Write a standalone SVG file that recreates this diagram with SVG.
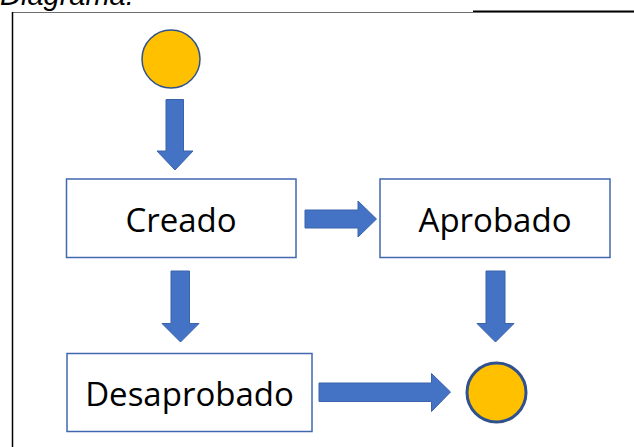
<svg xmlns="http://www.w3.org/2000/svg" width="634" height="447" viewBox="0 0 634 447">
  <style>
    .box { fill: #ffffff; stroke: #4068AE; stroke-width: 1.5; }
    .lbl { font-family: "Open Sans", "Noto Sans", sans-serif; font-size: 33px; fill: #000000; text-anchor: middle; }
    .arrow { fill: #4472C4; stroke: #3A63AA; stroke-width: 1; }
    .state { fill: #FFC000; stroke: #2F528F; }
  </style>
  <rect x="0" y="0" width="634" height="447" fill="#ffffff"/>
  <text x="0" y="5" font-family="Liberation Sans, Arial, sans-serif" font-size="29" font-style="italic" fill="#000000">Diagrama:</text>
  <g id="frame">
    <line x1="12" y1="12.5" x2="634" y2="12.5" stroke="#6f6f6f" stroke-width="1"/>
    <line x1="473" y1="11.3" x2="634" y2="11.3" stroke="#000000" stroke-width="1.6"/>
    <line x1="12.5" y1="12" x2="12.5" y2="447" stroke="#000000" stroke-width="1.5"/>
  </g>
  <g id="connectors">
    <polygon class="arrow" points="166,99.5 183.5,99.5 183.5,151 193,151 175,170 157,151 166,151"/>
    <polygon class="arrow" points="305,210 358,210 358,201 376.5,219 358,237 358,228 305,228"/>
    <polygon class="arrow" points="171,271 189.5,271 189.5,323.5 199,323.5 180.5,342 162,323.5 171,323.5"/>
    <polygon class="arrow" points="486,271 505,271 505,323.5 514,323.5 495.5,342 477,323.5 486,323.5"/>
    <polygon class="arrow" points="319,383 431.5,383 431.5,373.5 450.5,392 431.5,411.5 431.5,401.5 319,401.5"/>
  </g>
  <g id="start">
    <circle class="state" cx="171" cy="59" r="29" stroke-width="1.5"/>
  </g>
  <g id="creado">
    <rect class="box" x="66.5" y="179" width="229.5" height="78.5"/>
    <text class="lbl" x="181" y="231.5">Creado</text>
  </g>
  <g id="aprobado">
    <rect class="box" x="380" y="179" width="230" height="78.5"/>
    <text class="lbl" x="495" y="231.5">Aprobado</text>
  </g>
  <g id="desaprobado">
    <rect class="box" x="67" y="353.5" width="245" height="78"/>
    <text class="lbl" x="189.5" y="405.5">Desaprobado</text>
  </g>
  <g id="end">
    <circle class="state" cx="496.5" cy="392.5" r="29.5" stroke-width="3"/>
  </g>
</svg>
